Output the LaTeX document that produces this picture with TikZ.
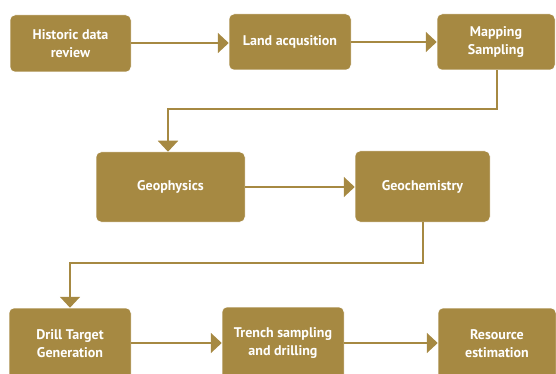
\documentclass[tikz,border=0pt]{standalone}
\usepackage{fontspec}
\setmainfont{PT Sans}
\usetikzlibrary{arrows.meta}
\definecolor{gold}{HTML}{A68942}
\tikzset{
  stepbox/.style={fill=gold, draw=white, line width=0.5pt, rounded corners=5pt, text=white,
    font=\fontsize{14}{18}\selectfont\bfseries, align=center, inner sep=0pt},
  conn/.style={draw=gold, line width=2pt, -{Triangle[length=11pt,width=20pt]}}
}
\begin{document}
\begin{tikzpicture}[x=1pt,y=-1pt]
\useasboundingbox (0,0) rectangle (556,374);
\node[stepbox, minimum width=121pt, minimum height=57pt] (hist) at (70.5,43.5) {Historic data\\review};
\node[stepbox, minimum width=122pt, minimum height=56pt] (land) at (290,42) {Land acqusition};
\node[stepbox, minimum width=118pt, minimum height=56pt] (map) at (496,42) {Mapping\\Sampling};
\node[stepbox, minimum width=149pt, minimum height=70pt] (geop) at (170.5,187) {Geophysics};
\node[stepbox, minimum width=135pt, minimum height=71pt] (geoc) at (422.5,186.5) {Geochemistry};
\node[stepbox, minimum width=122pt, minimum height=72pt] (drill) at (70,344) {Drill Target\\Generation};
\node[stepbox, minimum width=122pt, minimum height=73pt] (trench) at (283,343.5) {Trench sampling\\and drilling};
\node[stepbox, minimum width=118pt, minimum height=72pt] (res) at (497,344) {Resource\\estimation};
\draw[conn] (hist.east |- 0,43) -- (land.west |- 0,43);
\draw[conn] (land) -- (map);
\draw[conn] (map.south -| 497,0) -- (497,109) -- (168,109) -- (geop.north -| 168,0);
\draw[conn] (geop) -- (geoc.west |- geop);
\draw[conn] (geoc.south) -- (422.5,263) -- (70,263) -- (drill.north);
\draw[conn] (drill.east |- 0,343) -- (trench.west |- 0,343);
\draw[conn] (trench.east |- 0,343) -- (res.west |- 0,343);
\end{tikzpicture}
\end{document}
